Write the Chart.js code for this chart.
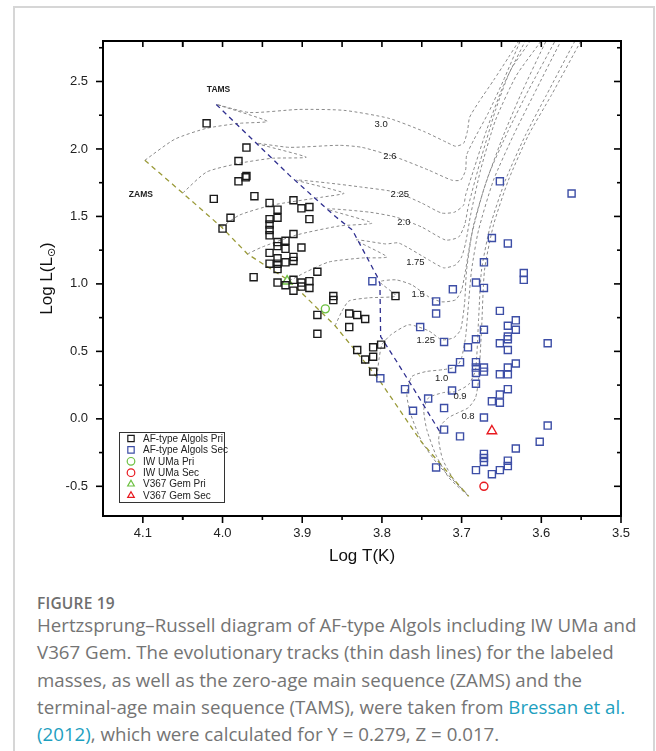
<!DOCTYPE html>
<html>
<head>
<meta charset="utf-8">
<script src="https://cdn.jsdelivr.net/npm/chart.js@4.4.1/dist/chart.umd.min.js"></script>
<style>
  html, body { margin: 0; padding: 0; background: #fff; }
  body { width: 656px; height: 751px; position: relative; overflow: hidden; font-family: 'Open Sans', sans-serif; }
  .card { position: absolute; left: 13px; top: 6px; width: 642px; height: 820px; border: 2px solid #d6d6d6; box-sizing: border-box; }
  #wrap { position: absolute; left: 0; top: 0; width: 656px; height: 580px; }
  .fig-no { position: absolute; left: 37px; top: 592px; font-size: 15.5px; font-weight: 600; color: #6e6e6e; letter-spacing: 0.2px; }
  .caption { position: absolute; left: 37px; top: 611px; font-size: 18.7px; line-height: 27.3px; color: #747474; white-space: nowrap; }
  .caption a { color: #1d9fbf; text-decoration: none; }
</style>
</head>
<body>
<div class="card"></div>
<div id="wrap"><canvas id="hr" width="656" height="580"></canvas></div>
<div class="fig-no">FIGURE 19</div>
<div class="caption">Hertzsprung–Russell diagram of AF-type Algols including IW UMa and<br>V367 Gem. The evolutionary tracks (thin dash lines) for the labeled<br>masses, as well as the zero-age main sequence (ZAMS) and the<br>terminal-age main sequence (TAMS), were taken from <a>Bressan et al.</a><br><a>(2012)</a>, which were calculated for Y = 0.279, Z = 0.017.</div>
<script>
// axis ticks
const xTickValues = [3.5, 3.6, 3.7, 3.8, 3.9, 4.0, 4.1];
const yTickValues = [-0.5, 0.0, 0.5, 1.0, 1.5, 2.0, 2.5];

// AF-type Algols, primaries (log Teff, log L)
const priLogT = [4.020, 3.970, 3.980, 3.970, 3.971, 3.980, 4.011, 3.960, 3.990, 4.000, 3.941, 3.911, 3.931, 3.901, 3.891,
  3.891, 3.931, 3.941, 3.941, 3.941, 3.941, 3.911, 3.931, 3.921, 3.931, 3.921, 3.901, 3.941, 3.931, 3.911, 3.911, 3.941,
  3.931, 3.921, 3.931, 3.881, 3.961, 3.931, 3.921, 3.911, 3.901, 3.891, 3.891, 3.901, 3.911, 3.861, 3.861, 3.881, 3.881,
  3.841, 3.831, 3.821, 3.841, 3.783, 3.811, 3.801, 3.831, 3.811, 3.821, 3.811];
const priLogL = [2.19, 2.01, 1.91, 1.80, 1.79, 1.76, 1.63, 1.65, 1.49, 1.41, 1.60, 1.62, 1.55, 1.56, 1.57,
  1.48, 1.49, 1.48, 1.44, 1.40, 1.36, 1.37, 1.31, 1.32, 1.28, 1.26, 1.27, 1.23, 1.19, 1.20, 1.17, 1.15,
  1.15, 1.16, 1.11, 1.09, 1.05, 1.01, 0.99, 1.03, 1.01, 1.02, 0.97, 0.98, 0.95, 0.91, 0.88, 0.77, 0.63,
  0.78, 0.77, 0.74, 0.68, 0.91, 0.53, 0.55, 0.51, 0.46, 0.44, 0.35];

// AF-type Algols, secondaries
const secLogT = [3.652, 3.562, 3.662, 3.642, 3.672, 3.622, 3.622, 3.682, 3.672, 3.652, 3.632, 3.642, 3.632, 3.672, 3.682,
  3.642, 3.642, 3.652, 3.592, 3.642, 3.692, 3.682, 3.682, 3.682, 3.672, 3.672, 3.632, 3.642, 3.642, 3.652, 3.682, 3.642,
  3.662, 3.652, 3.652, 3.672, 3.592, 3.602, 3.632, 3.672, 3.672, 3.672, 3.642, 3.642, 3.652, 3.662, 3.682, 3.711, 3.732,
  3.732, 3.812, 3.752, 3.722, 3.712, 3.702, 3.771, 3.742, 3.712, 3.802, 3.761, 3.722, 3.722, 3.702, 3.732];
const secLogL = [1.76, 1.67, 1.34, 1.30, 1.16, 1.08, 1.03, 1.01, 0.97, 0.80, 0.73, 0.69, 0.66, 0.66, 0.59,
  0.61, 0.59, 0.56, 0.56, 0.51, 0.53, 0.42, 0.38, 0.34, 0.38, 0.35, 0.41, 0.38, 0.33, 0.33, 0.26, 0.22,
  0.13, 0.18, 0.12, 0.01, -0.05, -0.17, -0.22, -0.26, -0.29, -0.32, -0.31, -0.35, -0.38, -0.41, -0.38, 0.96, 0.87,
  0.78, 1.02, 0.68, 0.57, 0.37, 0.42, 0.22, 0.15, 0.21, 0.30, 0.06, 0.08, -0.08, -0.13, -0.36];

// the two studied systems
const iwUmaPri = [3.871, 0.815];
const iwUmaSec = [3.672, -0.50];
const v367GemPri = [3.919, 1.02];
const v367GemSec = [3.662, -0.09];

// zero-age and terminal-age main sequence
const zams = [[4.0975, 1.916], [4.05, 1.673], [4.00125, 1.421], [3.96875, 1.222], [3.91625, 1.023],
  [3.85875, 0.69], [3.80375, 0.291], [3.75, -0.175], [3.69125, -0.574]];
const tams = [[4.0079, 2.33], [3.91625, 1.806], [3.8579, 1.497], [3.8371, 1.399], [3.8059, 1.054],
  [3.8025, 1.0], [3.8016, 0.61], [3.7829, 0.438], [3.7621, 0.241], [3.7266, -0.103]];

// evolutionary tracks, Bressan et al. (2012)
const track30 = [[4.0975, 1.916], [4.06, 2.072], [4.02, 2.153], [3.97875, 2.19], [3.94375, 2.205], [4.0075, 2.33],
  [3.96625, 2.27], [3.90375, 2.293], [3.8475, 2.286], [3.79125, 2.227], [3.7475, 2.13], [3.71875, 2.049],
  [3.7075, 2.02], [3.6975, 2.042], [3.6925, 2.138], [3.69, 2.234], [3.67875, 2.345], [3.66, 2.508],
  [3.64125, 2.678], [3.6225, 2.855], [3.61, 2.99]];
const track26 = [[4.05, 1.673], [4.02, 1.829], [3.97875, 1.894], [3.9375, 1.931], [3.895, 1.939], [3.9575, 2.042],
  [3.91625, 2.012], [3.85375, 2.027], [3.825, 2.012], [3.7825, 1.939], [3.74125, 1.843], [3.7125, 1.769],
  [3.70125, 1.769], [3.695, 1.843], [3.69375, 1.954], [3.685, 2.064], [3.66625, 2.27], [3.6475, 2.508],
  [3.62625, 2.803], [3.61625, 2.951]];
const track225 = [[4.00125, 1.421], [3.97875, 1.51], [3.9375, 1.584], [3.875, 1.643], [3.8475, 1.673], [3.9075, 1.769],
  [3.86625, 1.747], [3.825, 1.717], [3.7825, 1.68], [3.75, 1.599], [3.725, 1.525], [3.70875, 1.532],
  [3.6975, 1.584], [3.695, 1.658], [3.685, 1.843], [3.66875, 2.138], [3.6475, 2.471], [3.62, 2.803], [3.6075, 2.951]];
const track20 = [[3.96875, 1.222], [3.95, 1.274], [3.9075, 1.362], [3.85375, 1.429], [3.8125, 1.451], [3.86875, 1.555],
  [3.81625, 1.532], [3.7825, 1.495], [3.75, 1.421], [3.72, 1.325], [3.70375, 1.347], [3.69625, 1.436],
  [3.69125, 1.584], [3.67625, 1.916], [3.6575, 2.286], [3.63875, 2.582], [3.61375, 2.803], [3.60125, 2.951]];
const track175 = [[3.91625, 1.023], [3.895, 1.089], [3.86625, 1.163], [3.825, 1.192], [3.79375, 1.2], [3.8325, 1.325],
  [3.795, 1.296], [3.77875, 1.303], [3.74125, 1.178], [3.7225, 1.119], [3.7075, 1.141], [3.7, 1.2],
  [3.695, 1.303], [3.68875, 1.51], [3.67625, 1.843], [3.6575, 2.213], [3.63125, 2.545], [3.6, 2.803], [3.585, 2.951]];
const track15 = [[3.85875, 0.69], [3.85, 0.8], [3.84125, 0.874], [3.81625, 0.897], [3.7825, 0.911], [3.8025, 1.015],
  [3.7825, 1.03], [3.7625, 0.993], [3.74125, 0.904], [3.725, 0.867], [3.7075, 0.882], [3.7, 0.956],
  [3.695, 1.103], [3.6875, 1.362], [3.6725, 1.695], [3.65, 2.064], [3.62625, 2.397], [3.59375, 2.803], [3.57625, 2.99]];
const track125 = [[3.80625, 0.313], [3.80375, 0.438], [3.8, 0.549], [3.78875, 0.623], [3.76625, 0.697], [3.74125, 0.652],
  [3.725, 0.586], [3.71, 0.601], [3.70125, 0.66], [3.69625, 0.86], [3.69375, 1.103], [3.685, 1.436],
  [3.66625, 1.806], [3.64125, 2.138], [3.61625, 2.434], [3.5825, 2.803], [3.56625, 2.99]];
const track10 = [[3.69375, -0.552], [3.72875, -0.345], [3.75, -0.168], [3.76375, 0.032], [3.76875, 0.18], [3.7625, 0.313],
  [3.745, 0.35], [3.7225, 0.365], [3.70625, 0.387], [3.7, 0.453], [3.695, 0.608], [3.69125, 0.86],
  [3.6875, 1.103], [3.67875, 1.399], [3.66, 1.769], [3.635, 2.101], [3.61, 2.397], [3.575, 2.803], [3.55625, 2.99]];
const track09 = [[3.6925, -0.567], [3.71625, -0.434], [3.7325, -0.264], [3.74375, -0.079], [3.7475, 0.069], [3.74125, 0.157],
  [3.7225, 0.195], [3.7075, 0.202], [3.69125, 0.254], [3.6825, 0.365], [3.67875, 0.734], [3.675, 1.103],
  [3.66375, 1.436], [3.645, 1.769], [3.62, 2.101], [3.59375, 2.397], [3.5575, 2.803], [3.54125, 2.966]];
const track08 = [[3.69125, -0.574], [3.71, -0.448], [3.72375, -0.3], [3.72875, -0.153], [3.725, -0.042], [3.71625, 0.01],
  [3.70375, 0.047], [3.69125, 0.084], [3.6825, 0.157], [3.67875, 0.291], [3.675, 0.66], [3.67125, 1.103],
  [3.66, 1.436], [3.64125, 1.769], [3.61625, 2.101], [3.5875, 2.397], [3.55, 2.803], [3.53375, 2.966]];

const tracks = [track30, track26, track225, track20, track175, track15, track125, track10, track09, track08];
const trackMasses = ['3.0', '2.6', '2.25', '2.0', '1.75', '1.5', '1.25', '1.0', '0.9', '0.8'];
// where each mass label sits (log T, log L)
const massLabelAt = [[3.801, 2.18], [3.79, 1.946], [3.7775, 1.665], [3.7725, 1.453], [3.758, 1.16],
  [3.7546, 0.919], [3.745, 0.579], [3.725, 0.303], [3.702, 0.167], [3.692, 0.019]];
const seqLabels = ['TAMS', 'ZAMS'];
const seqLabelAt = [[4.005, 2.44], [4.1025, 1.665]];

const pairs = (xs, ys) => xs.map((v, i) => ({ x: v, y: ys[i] }));
const pts = (arr) => arr.map((p) => ({ x: p[0], y: p[1] }));

const GRAY = '#8a8a8a';
const BLUE = '#3d4ea6';
const GREEN = '#6cc040';
const RED = '#e8191f';

const markerSets = [
  { label: 'AF-type Algols Pri', data: pairs(priLogT, priLogL), pointStyle: 'rect', pointRadius: 5, pointBorderColor: '#1a1a1a' },
  { label: 'AF-type Algols Sec', data: pairs(secLogT, secLogL), pointStyle: 'rect', pointRadius: 5, pointBorderColor: BLUE },
  { label: 'IW UMa Pri', data: pts([iwUmaPri]), pointStyle: 'circle', pointRadius: 4, pointBorderColor: GREEN },
  { label: 'IW UMa Sec', data: pts([iwUmaSec]), pointStyle: 'circle', pointRadius: 4, pointBorderColor: RED },
  { label: 'V367 Gem Pri', data: pts([v367GemPri]), pointStyle: 'triangle', pointRadius: 5.5, pointBorderColor: GREEN },
  { label: 'V367 Gem Sec', data: pts([v367GemSec]), pointStyle: 'triangle', pointRadius: 5.5, pointBorderColor: RED },
].map((d) => ({ ...d, showLine: false, pointBorderWidth: 1.4, pointBackgroundColor: 'rgba(0,0,0,0)' }));

const lineSet = (data, color, dash, width) => ({
  data: pts(data),
  showLine: true,
  pointRadius: 0,
  borderColor: color,
  borderWidth: width,
  borderDash: dash,
  tension: 0.2,
});

const datasets = [
  ...markerSets,
  { ...lineSet(zams, '#9a9a38', [5, 4], 1.3), tension: 0 },
  { ...lineSet(tams, '#2f2f8f', [5, 4], 1.3), tension: 0 },
  ...tracks.map((t) => lineSet(t, GRAY, [3, 2.5], 1)),
];

function tickMarks(ctx, scale, values, fixed, len, horizontal) {
  values.forEach((v) => {
    const p = scale.getPixelForValue(v);
    ctx.beginPath();
    if (horizontal) {
      ctx.moveTo(p, fixed);
      ctx.lineTo(p, fixed + len);
    } else {
      ctx.moveTo(fixed, p);
      ctx.lineTo(fixed + len, p);
    }
    ctx.stroke();
  });
}

const midpoints = (vals) => vals.slice(1).map((v, i) => (v + vals[i]) / 2);

const hrDecor = {
  id: 'hrDecor',
  afterDatasetsDraw(chart) {
    const { ctx, chartArea: a, scales: { x, y } } = chart;
    ctx.save();

    // ticks: outside on bottom/left, inside on top/right
    const xMinor = midpoints(xTickValues).concat([4.05]);
    const yMinor = midpoints(yTickValues).concat([2.75]);
    ctx.strokeStyle = '#000';
    ctx.lineWidth = 1.6;
    tickMarks(ctx, x, xTickValues, a.bottom, 7, true);
    tickMarks(ctx, x, xMinor, a.bottom, 4, true);
    tickMarks(ctx, x, xTickValues.concat(xMinor), a.top, 6, true);
    tickMarks(ctx, y, yTickValues, a.left, -7, false);
    tickMarks(ctx, y, yMinor, a.left, -4, false);
    tickMarks(ctx, y, yTickValues, a.right, -7, false);
    tickMarks(ctx, y, yMinor, a.right, -4, false);

    ctx.lineWidth = 2;
    ctx.strokeRect(a.left, a.top, a.right - a.left, a.bottom - a.top);

    // mass labels on the tracks
    ctx.fillStyle = '#222';
    ctx.textAlign = 'center';
    ctx.textBaseline = 'middle';
    ctx.font = '9.5px "Liberation Sans", Arial, sans-serif';
    trackMasses.forEach((m, i) => {
      ctx.fillText(m, x.getPixelForValue(massLabelAt[i][0]), y.getPixelForValue(massLabelAt[i][1]));
    });
    ctx.font = 'bold 8.5px "Liberation Sans", Arial, sans-serif';
    seqLabels.forEach((s, i) => {
      ctx.fillText(s, x.getPixelForValue(seqLabelAt[i][0]), y.getPixelForValue(seqLabelAt[i][1]));
    });

    // legend box
    const bx = 119, by = 432, bw = 105, bh = 70;
    ctx.fillStyle = '#fff';
    ctx.fillRect(bx, by, bw, bh);
    ctx.strokeStyle = '#333';
    ctx.lineWidth = 1;
    ctx.strokeRect(bx + 0.5, by + 0.5, bw, bh);
    ctx.textAlign = 'left';
    ctx.font = '10px "Liberation Sans", Arial, sans-serif';
    markerSets.forEach((d, i) => {
      const ry = by + 6.5 + i * 11.4;
      ctx.strokeStyle = d.pointBorderColor;
      ctx.fillStyle = 'rgba(0,0,0,0)';
      ctx.lineWidth = 1.2;
      Chart.helpers.drawPoint(ctx, {
        pointStyle: d.pointStyle,
        radius: d.pointStyle === 'rect' ? 4.5 : 3.8,
        rotation: 0,
        borderWidth: 1.2,
      }, bx + 12, ry);
      ctx.fillStyle = '#222';
      ctx.fillText(d.label, bx + 24, ry + 0.5);
    });

    // axis titles
    ctx.fillStyle = '#111';
    ctx.textAlign = 'center';
    ctx.font = '17px "Liberation Sans", Arial, sans-serif';
    ctx.fillText('Log T(K)', (a.left + a.right) / 2, 556);

    ctx.translate(47, (a.top + a.bottom) / 2);
    ctx.rotate(-Math.PI / 2);
    const main = 'Log L(L';
    ctx.font = '17px "Liberation Sans", Arial, sans-serif';
    const w1 = ctx.measureText(main).width;
    ctx.font = '11px "DejaVu Sans", sans-serif';
    const w2 = ctx.measureText('\u2299').width;
    ctx.font = '17px "Liberation Sans", Arial, sans-serif';
    const w3 = ctx.measureText(')').width;
    let sx = -(w1 + w2 + w3) / 2;
    ctx.textAlign = 'left';
    ctx.fillText(main, sx, 0);
    sx += w1;
    ctx.font = '11px "DejaVu Sans", sans-serif';
    ctx.fillText('\u2299', sx, 5);
    sx += w2;
    ctx.font = '17px "Liberation Sans", Arial, sans-serif';
    ctx.fillText(')', sx, 0);

    ctx.restore();
  },
};

const tickFont = { family: '"Liberation Sans", Arial, sans-serif', size: 13 };

new Chart(document.getElementById('hr').getContext('2d'), {
  type: 'scatter',
  data: { datasets },
  options: {
    responsive: false,
    animation: false,
    events: [],
    layout: { padding: { left: 0, right: 35, top: 41, bottom: 0 } },
    plugins: { legend: { display: false }, tooltip: { enabled: false } },
    scales: {
      x: {
        type: 'linear',
        reverse: true,
        min: 3.5,
        max: 4.15,
        grid: { display: false, drawTicks: false },
        border: { display: false },
        ticks: { padding: 10, font: tickFont, color: '#222', callback: (v) => v.toFixed(1) },
        afterBuildTicks: (s) => { s.ticks = xTickValues.map((v) => ({ value: v })); },
        afterFit: (s) => { s.height = 64; },
      },
      y: {
        type: 'linear',
        min: -0.72,
        max: 2.8,
        grid: { display: false, drawTicks: false },
        border: { display: false },
        ticks: { padding: 15, font: tickFont, color: '#222', callback: (v) => v.toFixed(1) },
        afterBuildTicks: (s) => { s.ticks = yTickValues.map((v) => ({ value: v })); },
        afterFit: (s) => { s.width = 103; },
      },
    },
  },
  plugins: [hrDecor],
});
</script>
</body>
</html>
